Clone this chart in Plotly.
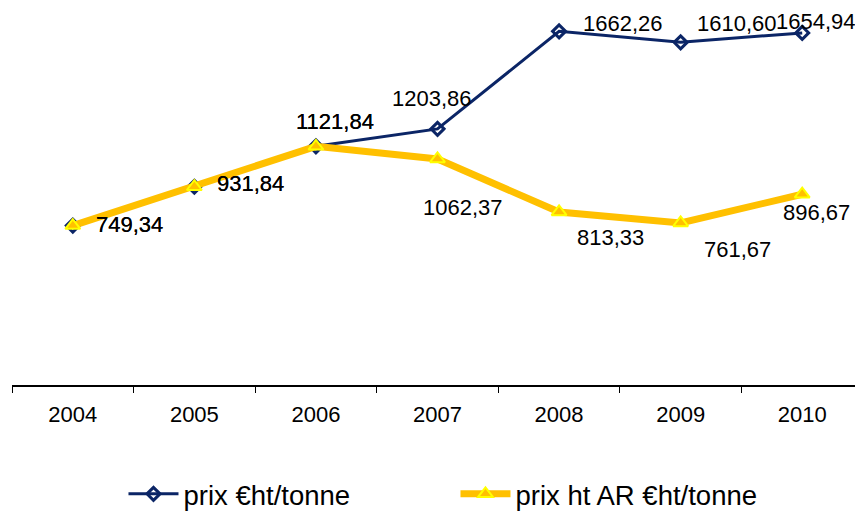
import plotly.graph_objects as go

years = ["2004", "2005", "2006", "2007", "2008", "2009", "2010"]
prix = [749.34, 931.84, 1121.84, 1203.86, 1662.26, 1610.60, 1654.94]
prix_ar = [749.34, 931.84, 1121.84, 1062.37, 813.33, 761.67, 896.67]
name_prix = "prix €ht/tonne"
name_ar = "prix ht AR €ht/tonne"

# label offsets (px) for styling
shift_prix = [(57, 1), (56, 3), (19, 25), (-6, 30), (64, 8), (56, 19), (14, 11)]
shift_ar = [(57, 1), (56, 3), (19, 25), (25, -49), (51, -26), (57, -27), (14, -18)]

FONT = "Liberation Sans, Arial, sans-serif"
NAVY = "#0b2566"
GOLD = "#FFC000"

fig = go.Figure()
fig.add_trace(go.Scatter(
    x=years, y=prix, name=name_prix, mode="lines+markers",
    line=dict(color=NAVY, width=3),
    marker=dict(symbol="diamond-open", size=10, color=NAVY, line=dict(width=3, color=NAVY)),
))
fig.add_trace(go.Scatter(
    x=years, y=prix_ar, name=name_ar, mode="lines+markers",
    line=dict(color=GOLD, width=7),
    marker=dict(symbol="triangle-up", size=13, color=GOLD, line=dict(width=2, color="#FFFF00")),
))

def fmt(v):
    return f"{v:.2f}".replace(".", ",")

for vals, shifts in ((prix, shift_prix), (prix_ar, shift_ar)):
    for i, (v, (dx, dy)) in enumerate(zip(vals, shifts)):
        fig.add_annotation(x=i, y=v, xref="x", yref="y", text=fmt(v), showarrow=False,
                           xshift=dx, yshift=dy,
                           font=dict(family=FONT, size=22, color="#000000"))

fig.update_layout(
    width=863, height=513,
    margin=dict(l=4, r=8, t=0, b=136, autoexpand=False),
    paper_bgcolor="white", plot_bgcolor="white",
    showlegend=True,
    legend=dict(orientation="h", x=0.131, y=-0.224, xanchor="left", yanchor="top",
                font=dict(family=FONT, size=27.5, color="#000000"),
                entrywidth=267, itemwidth=50),
    font=dict(family=FONT, size=22, color="#000000"),
)
fig.update_xaxes(type="category", range=[-0.5, 6.5], showline=True, linecolor="#000000",
                 linewidth=2, ticks="outside", tickson="boundaries", ticklen=6,
                 tickcolor="#000000", tickwidth=1, showgrid=False, zeroline=False,
                 ticklabelstandoff=9,
                 tickfont=dict(family=FONT, size=22, color="#000000"))
fig.update_yaxes(range=[0, 1772], visible=False, showgrid=False, zeroline=False)

fig.write_html("out.html")
